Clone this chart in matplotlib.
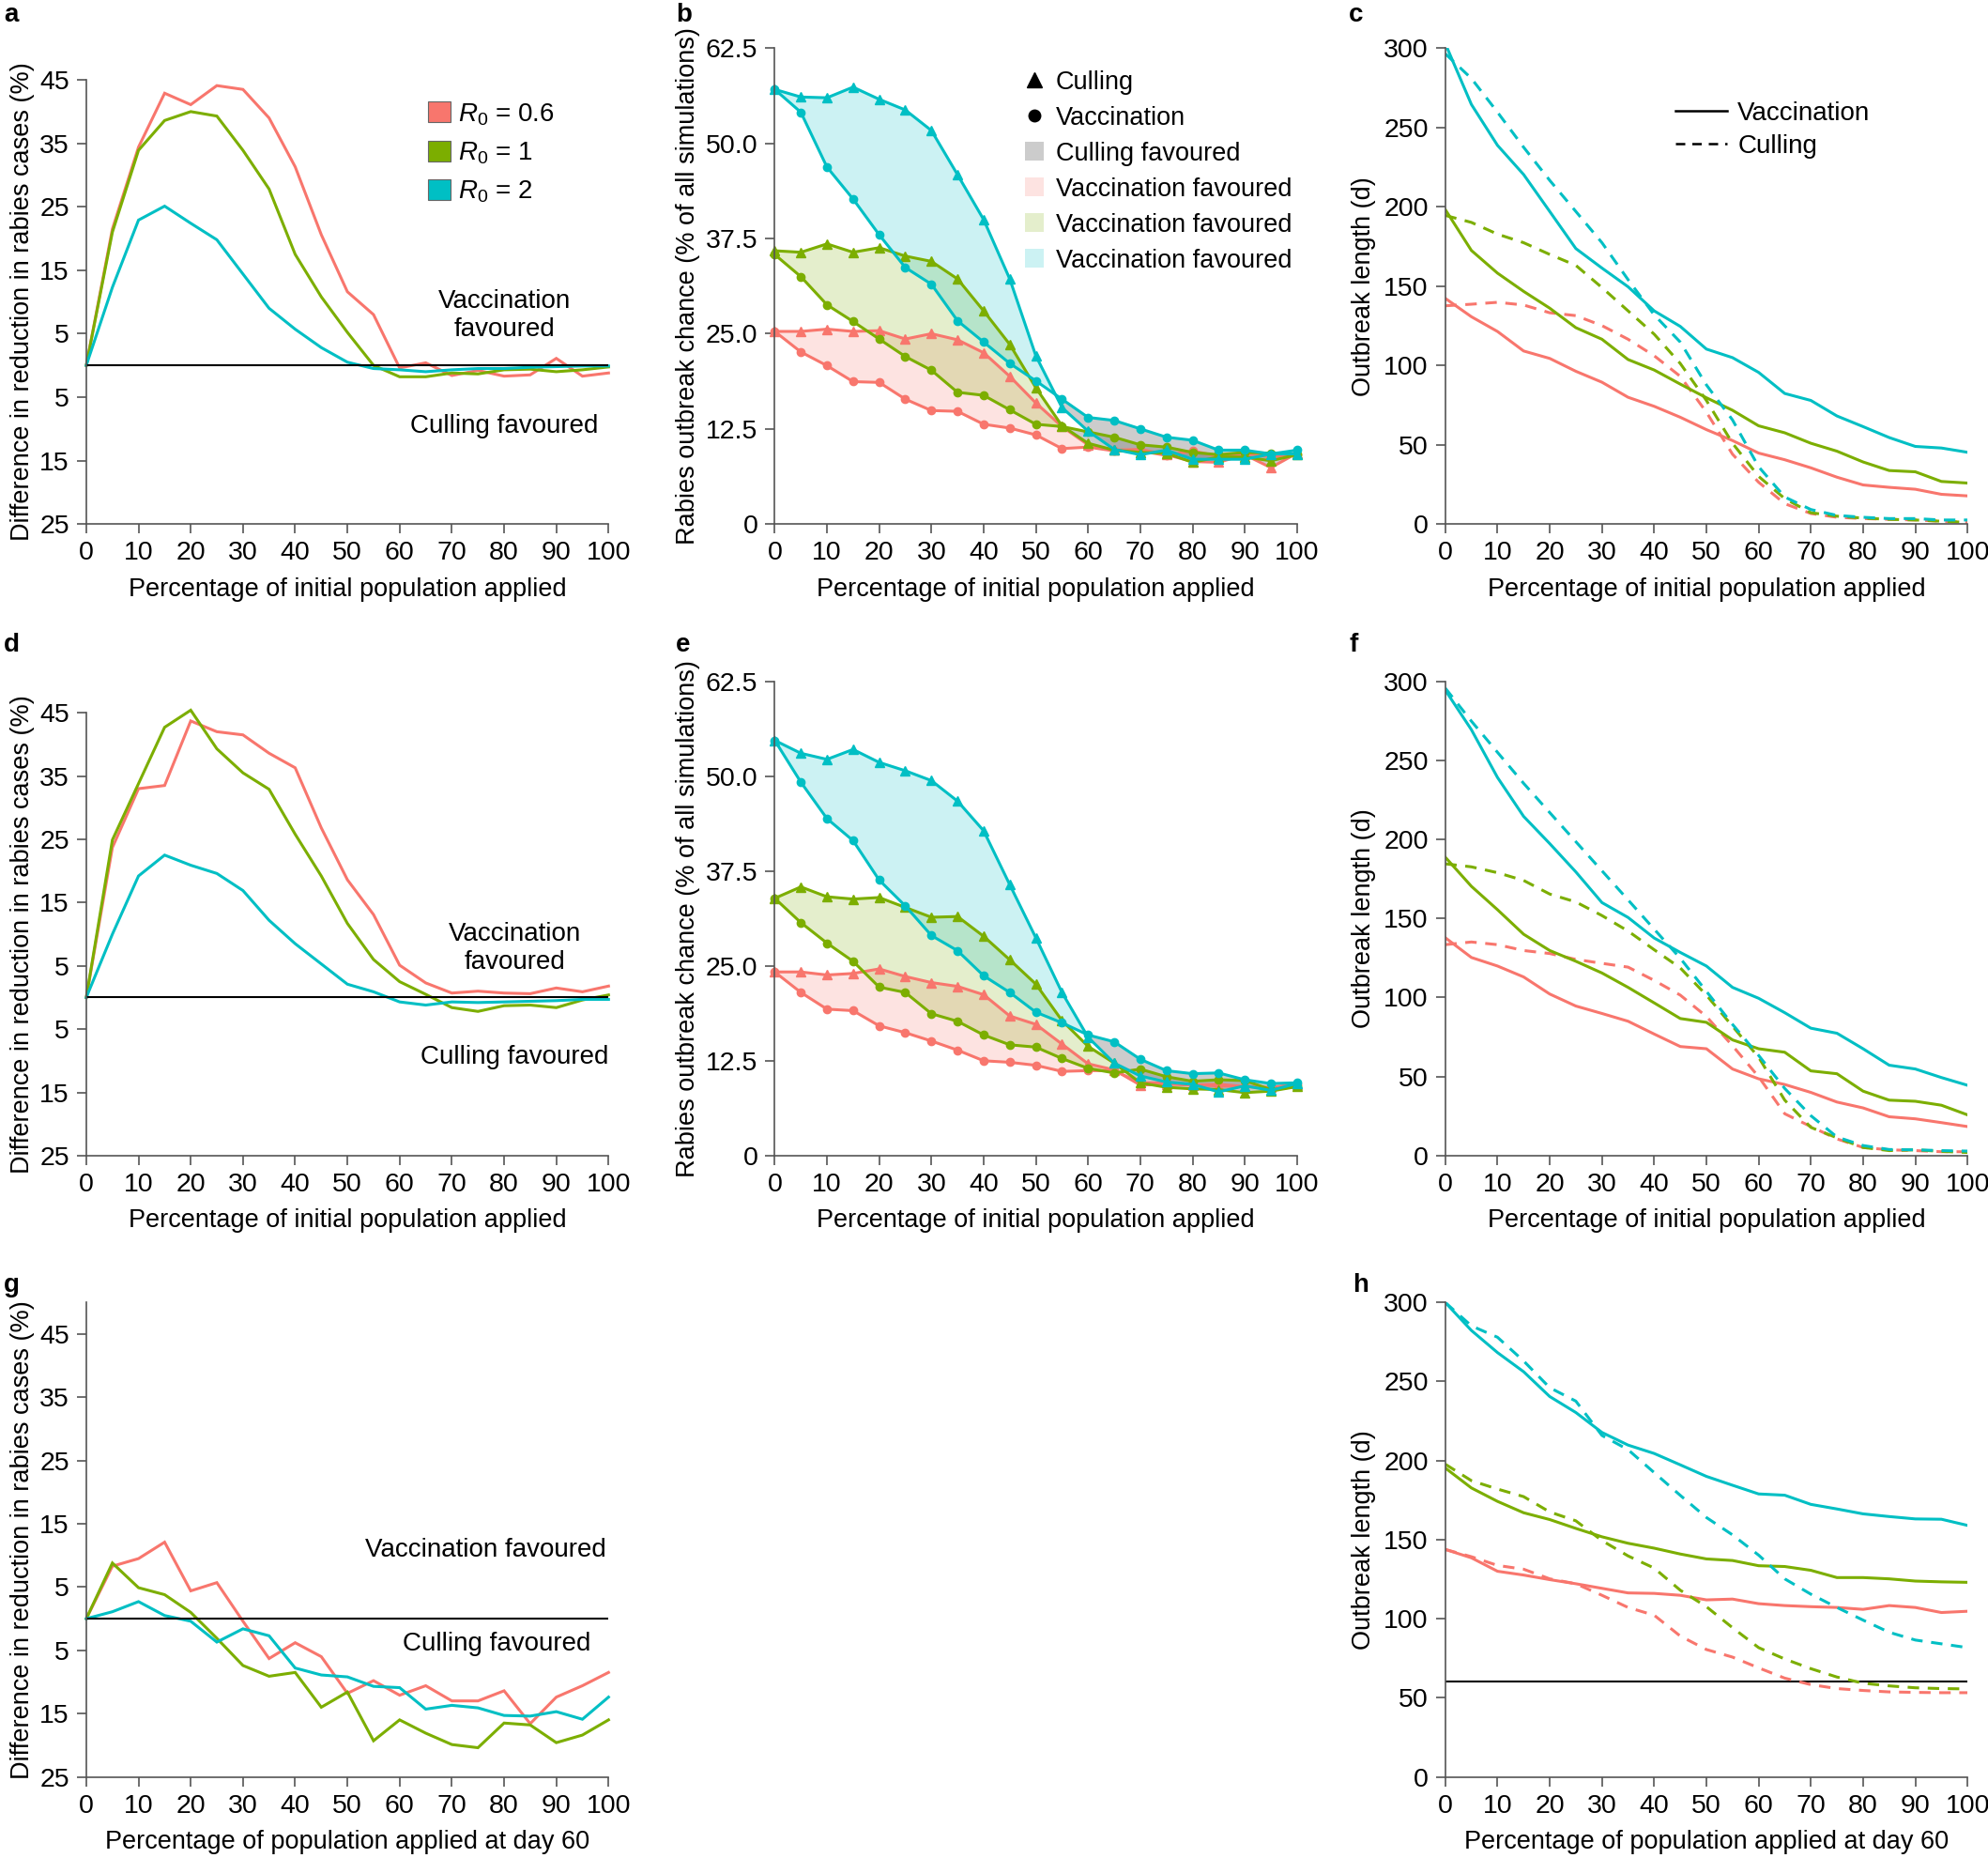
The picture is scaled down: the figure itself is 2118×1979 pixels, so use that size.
import matplotlib
matplotlib.use('Agg')
import matplotlib.pyplot as plt
from matplotlib.lines import Line2D
from matplotlib.patches import Patch
import numpy as np

plt.rcParams['font.family'] = ['Liberation Sans', 'DejaVu Sans']
plt.rcParams['mathtext.fontset'] = 'custom'
plt.rcParams['mathtext.rm'] = 'Liberation Sans'
plt.rcParams['mathtext.it'] = 'Liberation Sans:italic'

FS = 19.5
TFS = 20.5
RED, GREEN, CYAN = '#F8766D', '#7CAE00', '#00BFC4'
COLS = [RED, GREEN, CYAN]
R0_LABELS = [r'$R_0$ = 0.6', r'$R_0$ = 1', r'$R_0$ = 2']

x = list(range(0, 101, 5))

# ---------- panel a: difference in reduction (%) ----------
a_red = [0, 21.5, 34.4, 42.9, 41.1, 44.1, 43.5, 39.0, 31.3, 20.6, 11.6, 8.0, -0.4, 0.4, -1.6, -0.8, -1.7, -1.5, 1.1, -1.7, -1.2]
a_green = [0, 21.0, 33.9, 38.6, 40.0, 39.3, 33.9, 27.8, 17.5, 10.8, 5.2, 0.0, -1.8, -1.8, -1.2, -1.35, -0.7, -0.6, -1.0, -0.7, -0.25]
a_cyan = [0, 12.3, 22.9, 25.1, 22.4, 19.8, 14.4, 9.0, 5.7, 2.8, 0.5, -0.5, -0.7, -1.0, -0.7, -0.5, -0.5, -0.3, -0.2, -0.1, -0.1]

# ---------- panel d ----------
d_red = [0, 23.7, 33.0, 33.5, 43.7, 42.0, 41.5, 38.6, 36.3, 26.8, 18.6, 13.1, 5.1, 2.3, 0.7, 1.0, 0.7, 0.6, 1.5, 0.9, 1.8]
d_green = [0, 24.9, 33.8, 42.7, 45.4, 39.3, 35.5, 32.9, 25.8, 19.2, 11.7, 6.0, 2.5, 0.5, -1.6, -2.2, -1.3, -1.2, -1.6, -0.4, 0.4]
d_cyan = [0, 10.0, 19.2, 22.5, 20.9, 19.6, 16.9, 12.2, 8.5, 5.3, 2.1, 0.9, -0.7, -1.2, -0.7, -0.8, -0.7, -0.6, -0.5, -0.3, -0.3]

# ---------- panel g ----------
g_red = [0, 8.3, 9.5, 12.1, 4.4, 5.7, -0.4, -6.3, -3.8, -6.0, -11.8, -9.8, -12.1, -10.6, -13.0, -13.0, -11.4, -16.6, -12.4, -10.6, -8.5]
g_green = [0, 8.8, 4.9, 3.8, 1.0, -3.1, -7.4, -9.1, -8.5, -14.0, -11.6, -19.3, -16.0, -18.1, -19.9, -20.4, -16.5, -16.8, -19.6, -18.4, -16.0]
g_cyan = [0, 1.1, 2.7, 0.5, -0.4, -3.7, -1.6, -2.7, -7.8, -8.9, -9.2, -10.7, -10.9, -14.3, -13.7, -14.1, -15.3, -15.4, -14.7, -15.9, -12.4]

# ---------- panel b: outbreak chance (%) ----------
b_red_cull = [25.3, 25.3, 25.6, 25.3, 25.4, 24.3, 25.0, 24.2, 22.5, 19.4, 15.9, 12.8, 10.4, 9.7, 9.8, 9.1, 8.2, 8.1, 9.1, 7.4, 9.3]
b_red_vacc = [25.3, 22.6, 20.8, 18.7, 18.6, 16.4, 14.9, 14.8, 13.1, 12.6, 11.7, 9.9, 10.1, 9.6, 9.6, 9.0, 9.6, 8.9, 9.3, 8.8, 9.2]
b_green_cull = [35.9, 35.7, 36.8, 35.7, 36.3, 35.2, 34.5, 32.2, 28.0, 23.6, 17.9, 12.9, 10.6, 9.7, 9.4, 9.3, 8.1, 8.8, 8.8, 8.3, 9.1]
b_green_vacc = [35.4, 32.5, 28.8, 26.6, 24.3, 22.0, 20.2, 17.3, 16.9, 15.0, 13.1, 12.8, 12.1, 11.4, 10.4, 10.1, 9.4, 9.1, 9.4, 9.3, 9.1]
b_cyan_cull = [57.1, 56.1, 56.0, 57.4, 55.8, 54.4, 51.7, 45.9, 40.0, 32.2, 22.1, 15.3, 12.2, 9.8, 9.1, 9.7, 8.5, 8.5, 8.5, 9.2, 9.2]
b_cyan_vacc = [57.1, 54.1, 46.9, 42.7, 38.0, 33.7, 31.5, 26.7, 23.9, 21.1, 18.8, 16.4, 14.0, 13.6, 12.5, 11.4, 11.0, 9.7, 9.7, 9.2, 9.7]

# ---------- panel e ----------
e_red_cull = [24.2, 24.2, 23.8, 24.0, 24.6, 23.6, 22.8, 22.3, 21.2, 18.4, 17.3, 14.7, 12.1, 11.3, 9.3, 9.4, 9.3, 9.2, 9.1, 9.0, 9.4]
e_red_vacc = [24.2, 21.5, 19.3, 19.1, 17.1, 16.2, 15.1, 13.9, 12.5, 12.3, 11.9, 11.1, 11.2, 11.2, 9.6, 9.6, 9.3, 9.4, 9.1, 8.9, 9.4]
e_green_cull = [33.9, 35.4, 34.1, 33.8, 34.0, 32.7, 31.4, 31.5, 28.9, 25.8, 22.6, 17.8, 14.4, 12.2, 9.6, 9.0, 8.8, 8.7, 8.3, 8.5, 9.1]
e_green_vacc = [33.9, 30.7, 28.0, 25.6, 22.2, 21.5, 18.7, 17.7, 15.9, 14.6, 14.3, 12.8, 11.5, 10.9, 11.4, 10.4, 9.8, 10.0, 9.9, 8.7, 9.1]
e_cyan_cull = [54.7, 53.0, 52.2, 53.5, 51.8, 50.7, 49.4, 46.7, 42.8, 35.7, 28.7, 21.5, 15.6, 12.2, 10.5, 9.7, 9.4, 8.4, 9.2, 8.6, 9.5]
e_cyan_vacc = [54.7, 49.2, 44.4, 41.5, 36.3, 32.9, 29.0, 27.0, 23.7, 21.5, 18.9, 17.5, 15.9, 15.0, 12.7, 11.2, 10.8, 10.9, 10.0, 9.5, 9.6]

# ---------- panel c: outbreak length (d) ----------
c_red_vacc = [142.3, 130.7, 121.4, 109.1, 104.4, 96.3, 89.4, 79.9, 74.2, 67.3, 59.5, 52.6, 44.7, 40.5, 35.4, 29.5, 24.6, 23.1, 21.9, 18.7, 17.7]
c_red_cull = [137.6, 138.6, 139.8, 138.1, 133.2, 131.4, 125.1, 116.5, 106.1, 93.1, 70.5, 44.0, 26.3, 12.8, 6.6, 4.2, 3.4, 2.9, 2.5, 1.7, 1.0]
c_green_vacc = [198.3, 172.5, 158.2, 146.7, 136.1, 123.8, 116.5, 103.7, 97.1, 88.2, 79.6, 71.7, 61.9, 57.5, 50.9, 45.9, 39.1, 33.7, 32.9, 26.8, 25.8]
c_green_cull = [194.6, 190.2, 182.8, 177.4, 170.0, 163.1, 149.1, 134.4, 119.7, 101.2, 77.9, 50.9, 30.0, 16.0, 7.1, 4.9, 3.7, 2.9, 2.5, 1.7, 1.0]
c_cyan_vacc = [303.0, 264.6, 238.8, 220.4, 197.1, 173.7, 161.4, 149.6, 134.4, 124.6, 110.3, 104.9, 95.6, 82.3, 77.9, 68.1, 61.4, 54.5, 48.9, 47.9, 45.2]
c_cyan_cull = [296.6, 281.0, 259.7, 237.6, 216.7, 197.1, 177.4, 154.1, 131.9, 114.7, 87.7, 65.6, 36.1, 17.0, 9.1, 5.4, 4.2, 3.4, 3.4, 2.5, 2.5]

# ---------- panel f ----------
f_red_vacc = [137.8, 125.3, 119.9, 113.0, 102.2, 94.6, 89.9, 85.0, 76.9, 69.0, 67.6, 54.8, 48.6, 45.0, 40.0, 33.9, 30.2, 24.6, 23.3, 20.9, 18.4]
f_red_cull = [133.4, 135.1, 133.4, 129.7, 127.8, 124.1, 121.6, 119.2, 110.8, 101.5, 88.0, 69.5, 49.9, 26.5, 18.4, 10.6, 5.2, 3.7, 3.2, 2.5, 2.5]
f_green_vacc = [188.7, 170.3, 155.5, 140.0, 129.7, 122.9, 115.5, 106.4, 96.6, 86.7, 84.3, 73.2, 67.6, 65.4, 53.6, 51.8, 40.8, 35.1, 34.4, 31.9, 25.8]
f_green_cull = [184.5, 182.6, 178.9, 174.0, 165.4, 160.4, 151.8, 142.0, 130.2, 118.7, 101.5, 81.8, 62.2, 35.1, 17.9, 11.3, 5.2, 3.2, 3.7, 2.7, 2.0]
f_cyan_vacc = [294.3, 269.3, 239.1, 214.5, 197.3, 179.4, 160.0, 150.6, 137.6, 128.5, 119.9, 106.4, 99.5, 90.4, 80.6, 77.4, 67.6, 57.2, 54.8, 49.4, 44.5]
f_cyan_cull = [295.6, 274.7, 255.0, 235.4, 216.9, 198.5, 180.1, 161.7, 143.2, 124.8, 103.9, 83.0, 63.4, 42.5, 25.3, 11.8, 6.4, 3.9, 3.7, 3.2, 2.9]

# ---------- panel h ----------
h_red_vacc = [143.8, 138.5, 130.0, 127.6, 124.7, 122.1, 119.2, 116.3, 116.0, 114.8, 111.9, 112.4, 109.5, 108.3, 107.6, 107.1, 105.9, 108.3, 107.1, 103.9, 104.7]
h_red_cull = [143.8, 139.2, 133.7, 131.3, 125.2, 122.1, 114.8, 107.1, 102.2, 89.0, 80.5, 75.7, 68.9, 62.4, 58.3, 55.8, 54.6, 53.7, 53.4, 53.2, 53.2]
h_green_vacc = [195.3, 182.7, 174.2, 167.0, 162.7, 157.1, 151.8, 147.7, 144.6, 140.9, 137.8, 136.8, 133.5, 133.0, 130.6, 126.0, 126.0, 125.2, 123.8, 123.3, 123.0]
h_green_cull = [197.7, 187.3, 182.0, 177.2, 167.5, 161.9, 149.4, 139.7, 132.0, 118.0, 107.6, 94.3, 81.7, 74.5, 68.4, 63.1, 59.2, 57.5, 56.3, 55.8, 55.6]
h_cyan_vacc = [300.0, 282.3, 268.3, 256.2, 240.5, 230.4, 217.8, 209.8, 204.5, 197.3, 190.0, 184.4, 178.9, 178.1, 172.3, 169.4, 166.3, 164.6, 163.1, 162.9, 159.0]
h_cyan_cull = [300.0, 285.2, 278.0, 263.0, 246.1, 237.6, 215.9, 206.9, 192.4, 178.0, 164.0, 153.0, 140.2, 125.2, 115.5, 107.1, 99.1, 91.4, 86.5, 84.1, 81.7]

diff_ticks = [45, 35, 25, 15, 5, -5, -15, -25]
diff_ticklabels = ['45', '35', '25', '15', '5', '5', '15', '25']
chance_ticks = [0, 12.5, 25, 37.5, 50, 62.5]
chance_ticklabels = ['0', '12.5', '25.0', '37.5', '50.0', '62.5']
length_ticks = [0, 50, 100, 150, 200, 250, 300]
xticks = list(range(0, 101, 10))

XL_INIT = 'Percentage of initial population applied'
XL_D60 = 'Percentage of population applied at day 60'
YL_DIFF = 'Difference in reduction in rabies cases (%)'
YL_CHANCE = 'Rabies outbreak chance (% of all simulations)'
YL_LEN = 'Outbreak length (d)'

fig = plt.figure(figsize=(21.18, 19.79), dpi=100)

SPC = '#555555'


def style(ax):
    for s in ['top', 'right']:
        ax.spines[s].set_visible(False)
    for s in ['left', 'bottom']:
        ax.spines[s].set_color(SPC)
        ax.spines[s].set_linewidth(1.2)
    ax.tick_params(direction='out', length=7, width=1.2, color=SPC,
                   labelsize=TFS, labelcolor='black', pad=6)
    ax.set_xlim(0, 100)
    ax.set_xticks(xticks)


def diff_panel(pos, series, xlabel, ylim, texts):
    ax = fig.add_axes(pos)
    style(ax)
    for ys, c in zip(series, COLS):
        ax.plot(x, ys, color=c, lw=2.2, solid_joinstyle='miter', clip_on=False)
    ax.axhline(0, color='black', lw=1.5)
    ax.set_ylim(*ylim)
    ax.set_yticks(diff_ticks)
    ax.set_yticklabels(diff_ticklabels)
    ax.set_xlabel(xlabel, fontsize=FS, labelpad=9)
    ax.set_ylabel(YL_DIFF, fontsize=FS, labelpad=4)
    for (tx, ty, s, ha) in texts:
        ax.text(tx, ty, s, fontsize=FS + 0.5, ha=ha, va='center', linespacing=1.2)
    return ax


def chance_panel(pos, pairs, legend=False):
    ax = fig.add_axes(pos)
    style(ax)
    for (cul, vac), c in zip(pairs, COLS):
        cul = np.array(cul)
        vac = np.array(vac)
        ax.fill_between(x, vac, cul, where=cul >= vac, interpolate=True,
                        color=c, alpha=0.2, lw=0)
        ax.fill_between(x, vac, cul, where=vac > cul, interpolate=True,
                        color='#808080', alpha=0.4, lw=0)
    for (cul, vac), c in zip(pairs, COLS):
        ax.plot(x, cul, color=c, lw=2.2, marker='^', ms=7, clip_on=False)
        ax.plot(x, vac, color=c, lw=2.2, marker='o', ms=6, clip_on=False)
    ax.set_ylim(0, 62.5)
    ax.set_yticks(chance_ticks)
    ax.set_yticklabels(chance_ticklabels)
    ax.set_xlabel(XL_INIT, fontsize=FS, labelpad=9)
    ax.set_ylabel(YL_CHANCE, fontsize=FS, labelpad=4)
    if legend:
        handles = [
            Line2D([], [], color='black', marker='^', ls='none', ms=11),
            Line2D([], [], color='black', marker='o', ls='none', ms=9),
            Patch(facecolor='#808080', alpha=0.4, lw=0),
            Patch(facecolor=RED, alpha=0.2, lw=0),
            Patch(facecolor=GREEN, alpha=0.2, lw=0),
            Patch(facecolor=CYAN, alpha=0.2, lw=0),
        ]
        labels = ['Culling', 'Vaccination', 'Culling favoured',
                  'Vaccination favoured', 'Vaccination favoured',
                  'Vaccination favoured']
        ax.legend(handles, labels, loc='upper left', bbox_to_anchor=(0.46, 0.975),
                  frameon=False, fontsize=FS, handlelength=0.75, handleheight=0.75,
                  handletextpad=0.45, labelspacing=0.44, borderaxespad=0)
    return ax


def length_panel(pos, pairs, xlabel, legend=False, hline=None):
    ax = fig.add_axes(pos)
    style(ax)
    if hline is not None:
        ax.axhline(hline, color='black', lw=1.5)
    for (vac, cul), c in zip(pairs, COLS):
        ax.plot(x, vac, color=c, lw=2.2, ls='-')
        ax.plot(x, cul, color=c, lw=2.2, ls=(0, (4, 3)))
    ax.set_ylim(0, 300)
    ax.set_yticks(length_ticks)
    ax.set_xlabel(xlabel, fontsize=FS, labelpad=9)
    ax.set_ylabel(YL_LEN, fontsize=FS, labelpad=6)
    if legend:
        handles = [Line2D([], [], color='black', lw=1.8, ls='-'),
                   Line2D([], [], color='black', lw=1.8, ls=(0, (4, 3)))]
        ax.legend(handles, ['Vaccination', 'Culling'], loc='upper left',
                  bbox_to_anchor=(0.42, 0.91), frameon=False, fontsize=FS + 0.5,
                  handlelength=2.0, handletextpad=0.4, labelspacing=0.32,
                  borderaxespad=0)
    return ax


# ----- layout -----
L1, L2, L3 = 0.0434, 0.3897, 0.727
W = 0.2627

ax_a = diff_panel([L1, 0.718, W, 0.239], [a_red, a_green, a_cyan], XL_INIT, (-25, 45),
                  [(80, 7.8, 'Vaccination\nfavoured', 'center'),
                   (80, -9.6, 'Culling favoured', 'center')])
leg_handles = [Patch(facecolor=c, edgecolor='#666666', lw=0.8) for c in COLS]
ax_a.legend(leg_handles, R0_LABELS, loc='upper left', bbox_to_anchor=(0.635, 0.975),
            frameon=False, fontsize=FS + 0.5, handlelength=0.85, handleheight=0.85,
            handletextpad=0.3, labelspacing=0.5, borderaxespad=0)

chance_panel([L2, 0.718, W, 0.256],
             [(b_red_cull, b_red_vacc), (b_green_cull, b_green_vacc), (b_cyan_cull, b_cyan_vacc)],
             legend=True)
length_panel([L3, 0.718, W, 0.256],
             [(c_red_vacc, c_red_cull), (c_green_vacc, c_green_cull), (c_cyan_vacc, c_cyan_cull)],
             XL_INIT, legend=True)

diff_panel([L1, 0.378, W, 0.2384], [d_red, d_green, d_cyan], XL_INIT, (-25, 45),
           [(82, 7.8, 'Vaccination\nfavoured', 'center'),
            (82, -9.4, 'Culling favoured', 'center')])
chance_panel([L2, 0.378, W, 0.2554],
             [(e_red_cull, e_red_vacc), (e_green_cull, e_green_vacc), (e_cyan_cull, e_cyan_vacc)])
length_panel([L3, 0.378, W, 0.2554],
             [(f_red_vacc, f_red_cull), (f_green_vacc, f_green_cull), (f_cyan_vacc, f_cyan_cull)],
             XL_INIT)

diff_panel([L1, 0.0437, W, 0.2553], [g_red, g_green, g_cyan], XL_D60, (-25, 50),
           [(99.5, 10.8, 'Vaccination favoured', 'right'),
            (78.6, -4.0, 'Culling favoured', 'center')])
length_panel([L3, 0.0437, W, 0.2553],
             [(h_red_vacc, h_red_cull), (h_green_vacc, h_green_cull), (h_cyan_vacc, h_cyan_cull)],
             XL_D60, hline=60)

for lab, fx, fy in [('a', 0.002, 0.992), ('b', 0.340, 0.992), ('c', 0.6785, 0.992),
                    ('d', 0.002, 0.653), ('e', 0.340, 0.653), ('f', 0.6785, 0.653),
                    ('g', 0.002, 0.308), ('h', 0.6805, 0.308)]:
    fig.text(fx, fy, lab, fontsize=20, fontweight='bold', ha='left', va='center')

fig.savefig('out.png', dpi=100)
